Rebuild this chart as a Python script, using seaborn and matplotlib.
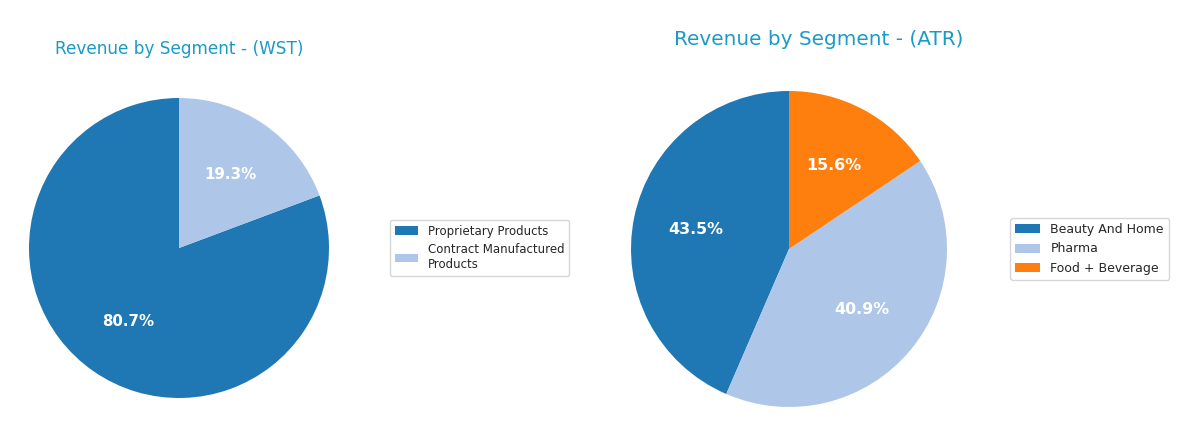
import matplotlib
matplotlib.use("Agg")
import matplotlib.pyplot as plt
import seaborn as sns

sns.set_style("white")
plt.rcParams["font.family"] = ["DejaVu Sans"]

wst_labels = ["Proprietary Products", "Contract Manufactured\nProducts"]
wst_values = [80.7, 19.3]

atr_labels = ["Beauty And Home", "Pharma", "Food + Beverage"]
atr_values = [43.5, 40.9, 15.6]

palette = sns.color_palette("tab20")
title_color = "#1a9ac6"

fig = plt.figure(figsize=(12, 4.38), dpi=100)
ax1 = fig.add_axes([29 / 1200, 40 / 438, 300 / 1200, 300 / 438])
ax2 = fig.add_axes([631 / 1200, 31 / 438, 316 / 1200, 316 / 438])


def draw_pie(ax, values, labels, colors, title, legend_x, scale,
             title_size, title_x, title_pad):
    wedges, _, autotexts = ax.pie(
        values,
        colors=colors,
        startangle=90,
        autopct="%1.1f%%",
        pctdistance=0.6,
        wedgeprops={"linewidth": 0},
        textprops={"color": "white", "fontsize": 10.8 * scale, "fontweight": "bold"},
    )
    ax.set_xlim(-1, 1)
    ax.set_ylim(-1, 1)
    ax.set_aspect("equal")
    ax.set_title(title, color=title_color, fontsize=title_size, x=title_x,
                 pad=title_pad)
    ax.legend(
        wedges,
        labels,
        loc="center left",
        bbox_to_anchor=(legend_x, 0.5),
        fontsize=8.5 * scale,
        frameon=True,
    )


draw_pie(ax1, wst_values, wst_labels, [palette[0], palette[1]],
         "Revenue by Segment - (WST)", 1.183, 1.0, 12.2, 0.5, 31.5)
draw_pie(ax2, atr_values, atr_labels, [palette[0], palette[1], palette[2]],
         "Revenue by Segment - (ATR)", 1.181, 1.06, 14.4, 0.595, 33)

plt.savefig("out.png", dpi=100)
